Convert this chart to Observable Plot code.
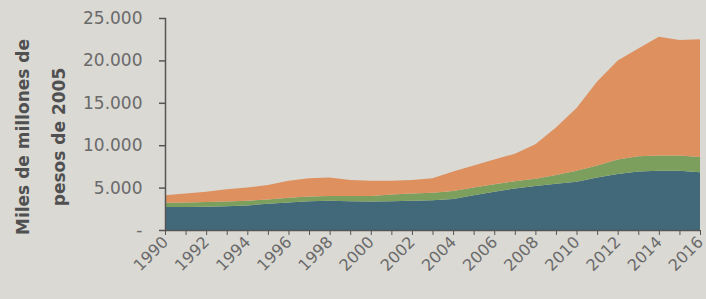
<!DOCTYPE html>
<html><head><meta charset="utf-8">
<script src="https://cdn.jsdelivr.net/npm/d3@7"></script>
<script src="https://cdn.jsdelivr.net/npm/@observablehq/plot@0.6"></script>
<style>
html,body{margin:0;padding:0;background:#dad9d4;}
#chart{width:706px;height:299px;overflow:hidden;}
</style></head><body><div id="chart"></div>
<script>
const years = [1990,1991,1992,1993,1994,1995,1996,1997,1998,1999,2000,2001,2002,2003,2004,2005,2006,2007,2008,2009,2010,2011,2012,2013,2014,2015,2016];
const seriesNames = ["Serie 1","Serie 2","Serie 3"];
const serie1 = [2700,2700,2750,2800,2900,3100,3250,3400,3450,3400,3350,3400,3450,3500,3650,4100,4500,4900,5200,5450,5700,6200,6600,6900,7000,7000,6800];
const serie2 = [500,550,550,550,550,500,550,550,550,600,650,800,850,900,950,900,900,850,850,1050,1300,1400,1700,1800,1800,1800,1800];
const serie3 = [900,1050,1200,1450,1550,1700,2000,2150,2200,1900,1800,1600,1600,1700,2300,2600,2900,3250,4050,5600,7400,9900,11700,12700,14000,13600,13900];
const yTicks = [0,5000,10000,15000,20000,25000];
const xTickLabels = [1990,1992,1994,1996,1998,2000,2002,2004,2006,2008,2010,2012,2014,2016];
const colors = ["#41697a","#7d9f5e","#de905f"];
const yTitle = ["Miles de millones de","pesos de 2005"];

const allSeries = [serie1, serie2, serie3];
const data = [];
years.forEach((yr, i) => {
  seriesNames.forEach((s, j) => data.push({year: yr, series: s, value: allSeries[j][i]}));
});

const fmt = d => d === 0 ? "-" : d3.format(",")(d).replace(/,/g, ".");

const chart = Plot.plot({
  width: 706, height: 299,
  marginLeft: 165, marginRight: 6, marginTop: 18, marginBottom: 69,
  style: {background: "transparent", color: "#6a6a6a", fontFamily: "DejaVu Sans"},
  x: {domain: [1990, 2016]},
  y: {domain: [0, 25000]},
  color: {domain: seriesNames, range: colors},
  marks: [
    Plot.areaY(data, {x: "year", y: "value", fill: "series", z: "series"}),
    Plot.ruleY([0], {stroke: "#555", strokeWidth: 1.5}),
    Plot.frame({anchor: "left", stroke: "#555", strokeWidth: 1.5}),
    Plot.axisY({ticks: yTicks, tickSize: 6, tickPadding: 17, tickFormat: fmt, fontSize: 17, label: null, stroke: "#555", strokeWidth: 1.5}),
    Plot.axisX({ticks: years, tickSize: 5, tickFormat: () => "", label: null, stroke: "#555"}),
    Plot.axisX({ticks: xTickLabels, tickSize: 0, tickPadding: 9, tickRotate: -45, tickFormat: d => String(d), fontSize: 16, label: null})
  ]
});
document.getElementById("chart").appendChild(chart);

const svg = d3.select(chart);
const g = svg.append("g").attr("fill", "#505050").attr("font-family", "DejaVu Sans").attr("font-weight", "bold").attr("font-size", 17).attr("text-anchor", "middle");
g.append("text").attr("transform", "translate(29,137) rotate(-90)").text(yTitle[0]);
g.append("text").attr("transform", "translate(65,137) rotate(-90)").text(yTitle[1]);
</script>
</body></html>
